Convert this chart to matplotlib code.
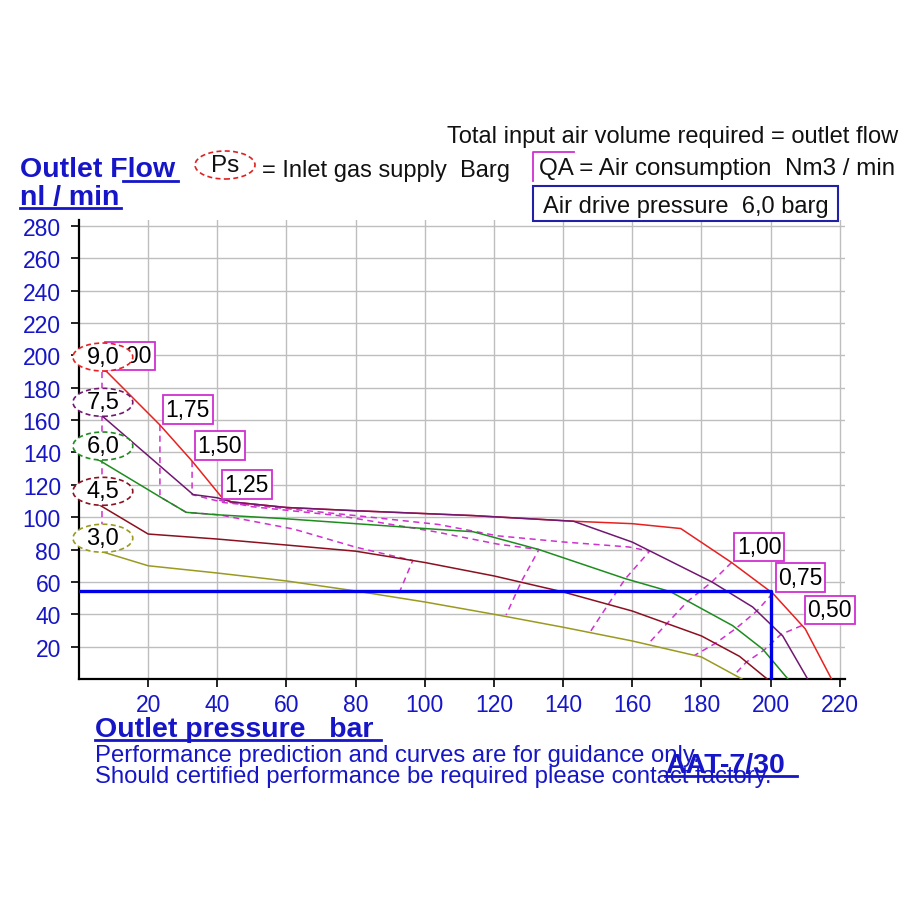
import matplotlib
matplotlib.use("Agg")
import matplotlib.pyplot as plt
from matplotlib.patches import Ellipse, Rectangle
from matplotlib.lines import Line2D

plt.rcParams['font.family'] = ['Liberation Sans', 'DejaVu Sans']

# --- data ---
ps_labels = ["9,0", "7,5", "6,0", "4,5", "3,0"]
ps_colors = ["#E82020", "#701870", "#1E8C1E", "#8B1020", "#9A9A20"]

x_90 = [0, 8, 23.4, 32.7, 41, 44, 60, 80, 114, 143, 160, 174, 188.7, 200.6, 210, 217.6]
y_90 = [195, 190, 157, 134.7, 113, 109.5, 106, 104, 101, 97.5, 96, 93, 72, 53, 31, 0]

x_75 = [0, 7, 33, 40, 44, 60, 80, 114, 143, 160, 183, 194.8, 203.5, 210.7]
y_75 = [167, 162, 114, 112, 109.5, 106, 104, 101, 97.5, 84.6, 60, 44.5, 26.6, 0]

x_60 = [0, 6, 23.4, 31, 40, 60, 80, 100, 114, 133, 158, 171, 189, 197.7, 205]
y_60 = [140, 135, 112.6, 103, 101.5, 99, 96, 93, 91, 80, 62, 54, 33, 18.5, 0]

x_45 = [0, 4, 20, 40, 60, 80, 100, 120, 140, 160, 180, 191, 199]
y_45 = [112, 110, 89.6, 86.5, 82.8, 79, 72, 63.7, 53.8, 42, 26.6, 14, 0]

x_30 = [0, 20, 40, 60, 80, 100, 120, 140, 160, 180, 191.7]
y_30 = [83, 70, 65.5, 60.6, 54.4, 47.6, 40, 32, 23.5, 13.6, 0]

curves_x = [x_90, x_75, x_60, x_45, x_30]
curves_y = [y_90, y_75, y_60, y_45, y_30]

# air consumption (QA) lines, first point sits on the 9,0 curve
qa_labels = ["2,00", "1,75", "1,50", "1,25", "1,00", "0,75", "0,50"]
qa_x = [
    [6.6, 6.6, 6.6, 6.6, 6.6],
    [23.4, 23.4, 23.4, 31, 40.5, 62, 80, 96.5, 92],
    [32.7, 32.7, 42, 59, 80, 104, 121, 140, 159, 165, 158, 153, 147.7],
    [40.5, 50, 75, 103, 121, 133, 128, 123.5],
    [188.7, 183, 176, 170, 164.5],
    [200.6, 196, 190, 184, 178],
    [209, 203, 198, 193, 189.5],
]
qa_y = [
    [190, 162, 135, 111, 79],
    [157, 131.7, 112.6, 103, 101.5, 92.7, 81.5, 73.2, 50.3],
    [134.7, 114, 109, 105.5, 101, 95.5, 88.5, 84.7, 81.6, 79, 62, 46, 28.7],
    [110.5, 106.5, 101, 91, 83.4, 80, 60.6, 39.5],
    [72, 60, 48, 34.3, 21.5],
    [53, 42, 31.3, 22, 14.6],
    [33, 27.6, 17.7, 10.5, 2.5],
]

op_pressure = 200
op_flow = 54.5

x_ticks = [20, 40, 60, 80, 100, 120, 140, 160, 180, 200, 220]
y_ticks = [20, 40, 60, 80, 100, 120, 140, 160, 180, 200, 220, 240, 260, 280]

W = H = 912
BLUE = "#1616C8"
MAG = "#D030D0"

fig = plt.figure(figsize=(W / 100, H / 100), dpi=100)
ax = fig.add_axes([79 / W, 1 - 680 / H, 766 / W, 459.5 / H])
ax.set_xlim(0, 221.5)
ax.set_ylim(0, 284)

ax.set_xticks(x_ticks)
ax.set_yticks(y_ticks)
ax.grid(True, color="#BEBEBE", lw=1.0)
ax.set_axisbelow(True)
for s in ["top", "right"]:
    ax.spines[s].set_visible(False)
for s in ["left", "bottom"]:
    ax.spines[s].set_linewidth(1.6)
ax.tick_params(axis="both", colors="black", labelcolor=BLUE, labelsize=16.5,
               length=6, width=1.2, direction="out")
ax.tick_params(axis="y", pad=7)
ax.tick_params(axis="x", pad=4)

# Ps curves
for xs, ys, c in zip(curves_x, curves_y, ps_colors):
    ax.plot(xs, ys, color=c, lw=1.1, zorder=3)

# QA dashed lines and boxed labels
for xs, ys, lab in zip(qa_x, qa_y, qa_labels):
    ax.plot(xs, ys, color=MAG, lw=1.1, ls=(0, (4, 3)), zorder=2)
    ax.annotate(lab, xy=(xs[0], ys[0]), xytext=(4, 3), textcoords="offset points",
                ha="left", va="bottom", fontsize=16.5, color="black", zorder=4,
                bbox=dict(boxstyle="square,pad=0.12", fc="white", ec=MAG, lw=1.3))

# operating point
ax.plot([0, op_pressure, op_pressure], [op_flow, op_flow, 0], color="#0000E6", lw=2.4, zorder=5)

# Ps ellipses at curve starts
for ys, lab, c in zip(curves_y, ps_labels, ps_colors):
    cy = ys[0] + 4
    ax.add_patch(Ellipse((6.9, cy), 17.3, 17.3, fc="white", ec=c, lw=1.2, ls=(0, (3, 2)),
                         zorder=6, clip_on=False))
    ax.text(6.9, cy, lab, ha="center", va="center", fontsize=17, zorder=7)


def ftext(x, y, s, **kw):
    fig.text(x / W, 1 - y / H, s, va="baseline", **kw)


def fline(xs, ys, **kw):
    fig.add_artist(Line2D([v / W for v in xs], [1 - v / H for v in ys],
                          transform=fig.transFigure, **kw))


# header
ftext(898, 143, "Total input air volume required = outlet flow", ha="right", fontsize=17, color="#111111")
ftext(20, 177, "Outlet Flow", ha="left", fontsize=20.5, fontweight="bold", color=BLUE)
fline([123, 178], [182, 182], color=BLUE, lw=2)
ftext(20, 205, "nl / min", ha="left", fontsize=20.5, fontweight="bold", color=BLUE)
fline([20, 121], [209, 209], color=BLUE, lw=2)

fig.add_artist(Ellipse((225 / W, 1 - 166 / H), 60 / W, 28 / H, transform=fig.transFigure,
                       fc="none", ec="#E02020", lw=1.2, ls=(0, (3, 2))))
fig.text(225 / W, 1 - 166 / H, "Ps", ha="center", va="center", fontsize=17.5, color="#111111")
ftext(262, 177, "= Inlet gas supply  Barg", ha="left", fontsize=17, color="#111111")
fline([533, 533, 574], [182, 153, 153], color=MAG, lw=1.3)
ftext(539, 175, "QA = Air consumption  Nm3 / min", ha="left", fontsize=17.4, color="#111111")
fig.add_artist(Rectangle((533 / W, 1 - 222 / H), 305 / W, 35 / H, transform=fig.transFigure,
                         fc="none", ec="#2020A8", lw=1.5))
ftext(543, 213, "Air drive pressure  6,0 barg", ha="left", fontsize=17, color="#111111")

# footer
ftext(95, 737, "Outlet pressure   bar", ha="left", fontsize=20.5, fontweight="bold", color=BLUE)
fline([95, 381], [741, 741], color=BLUE, lw=2)
ftext(95, 762, "Performance prediction and curves are for guidance only.", ha="left",
      fontsize=17.2, color=BLUE)
ftext(95, 783, "Should certified performance be required please contact factory.", ha="left",
      fontsize=17.2, color=BLUE)
ftext(665, 773, "AAT-7/30", ha="left", fontsize=20.5, fontweight="bold", color=BLUE)
fline([665, 797], [777, 777], color=BLUE, lw=2)

fig.savefig("out.png", dpi=100, facecolor="white")
